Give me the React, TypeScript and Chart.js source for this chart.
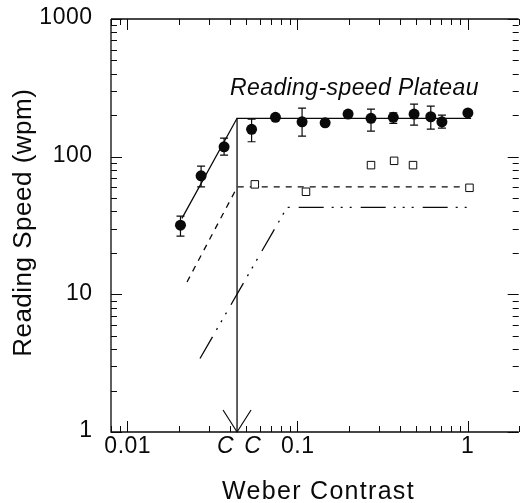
import React, { useEffect, useRef } from "react";
import { Chart, registerables } from "chart.js";

Chart.register(...registerables);

// ---- data ----
const circleX = [0.0205, 0.0271, 0.037, 0.0537, 0.0742, 0.1064, 0.1454, 0.1984, 0.2706, 0.366, 0.485, 0.608, 0.707, 1.005];
const circleY = [31.8, 72.6, 118, 158, 193, 179, 176, 204, 190, 193, 204, 195, 179, 208];
const circleErrLow = [26.5, 60.4, 102.7, 128.3, null, 141, null, null, 153.4, 174.5, 169.7, 158.7, 161.4, null];
const circleErrHigh = [37, 85.4, 136.5, 187.5, null, 225.5, null, null, 221.6, 208.4, 241, 233, 200.6, null];

const squareX = [0.0561, 0.1122, 0.2706, 0.37, 0.478, 1.027];
const squareY = [62.9, 55.6, 86.8, 93.3, 86.8, 59.4];

const solidFitX = [0.0209, 0.0441, 1.05];
const solidFitY = [35.6, 190, 190];
const cutoffX = [0.0441, 0.0441];
const cutoffY = [190, 1];
const dashedFitX = [0.0224, 0.0443, 1.03];
const dashedFitY = [12.3, 60.4, 60.4];
const dashDotFitX = [0.0267, 0.0868, 1.06];
const dashDotFitY = [3.42, 42.8, 42.8];

const xTickValues = [0.01, 0.1, 1];
const xTickLabels = ["0.01", "0.1", "1"];
const cLabelX = [0.0376, 0.0545];
const cLabels = ["C", "C"];
const yTickValues = [1, 10, 100, 1000];
const yTickLabels = ["1", "10", "100", "1000"];

const xTitle = "Weber Contrast";
const yTitle = "Reading Speed (wpm)";
const plateauText = "Reading-speed Plateau";
const plateauPos = { x: 0.0401, y: 280 };

const xMin = 0.008, xMax = 2, yMin = 1, yMax = 1000;

const FONT = '"Liberation Sans", Arial, Helvetica, sans-serif';
const INK = "#0a0a0a";

const pts = (xs: number[], ys: number[]) => xs.map((x, i) => ({ x, y: ys[i] }));

function minorValues(min: number, max: number) {
  const out: number[] = [];
  for (let e = Math.floor(Math.log10(min)); e <= Math.ceil(Math.log10(max)); e++) {
    for (let m = 1; m <= 9; m++) {
      const v = m * Math.pow(10, e);
      if (v >= min * 0.999 && v <= max * 1.001) out.push(v);
    }
  }
  return out;
}

function spacedText(ctx: any, text: string, x: number, y: number, spacing: number, align: string) {
  ctx.save();
  ctx.textAlign = "left";
  if ("letterSpacing" in ctx) {
    ctx.letterSpacing = `${spacing}px`;
    const w = ctx.measureText(text).width - spacing;
    const sx = align === "center" ? x - w / 2 : align === "right" ? x - w : x;
    ctx.fillText(text, sx, y);
  } else {
    const w = ctx.measureText(text).width + spacing * (text.length - 1);
    let cx = align === "center" ? x - w / 2 : align === "right" ? x - w : x;
    for (const ch of text) {
      ctx.fillText(ch, cx, y);
      cx += ctx.measureText(ch).width + spacing;
    }
  }
  ctx.restore();
}

const framePlugin = {
  id: "frame",
  afterDatasetsDraw(chart: any) {
    const { ctx, chartArea: a, scales } = chart;
    const xs = scales.x, ys = scales.y;
    ctx.save();
    ctx.strokeStyle = INK;
    ctx.fillStyle = INK;
    ctx.lineWidth = 1.3;
    // frame
    ctx.beginPath();
    ctx.moveTo(a.left, a.top);
    ctx.lineTo(a.right, a.top);
    ctx.moveTo(a.left, a.top);
    ctx.lineTo(a.left, a.bottom);
    ctx.lineTo(a.right, a.bottom);
    ctx.stroke();
    // ticks
    ctx.lineWidth = 1;
    ctx.beginPath();
    for (const v of minorValues(xMin, xMax)) {
      const p = Math.round(xs.getPixelForValue(v)) + 0.5;
      const major = Math.abs(Math.log10(v) - Math.round(Math.log10(v))) < 1e-6;
      const L = major ? 11 : 6;
      ctx.moveTo(p, a.bottom);
      ctx.lineTo(p, a.bottom - L);
      ctx.moveTo(p, a.top);
      ctx.lineTo(p, a.top + L);
    }
    for (const v of minorValues(yMin, yMax)) {
      const p = Math.round(ys.getPixelForValue(v)) + 0.5;
      const major = Math.abs(Math.log10(v) - Math.round(Math.log10(v))) < 1e-6;
      const L = major ? 11 : 6;
      ctx.moveTo(a.left, p);
      ctx.lineTo(a.left + L, p);
      ctx.moveTo(a.right, p);
      ctx.lineTo(a.right - L, p);
    }
    ctx.stroke();

    // error bars
    ctx.lineWidth = 1.2;
    ctx.beginPath();
    circleX.forEach((x, i) => {
      const lo = circleErrLow[i], hi = circleErrHigh[i];
      if (lo == null || hi == null) return;
      const px = xs.getPixelForValue(x);
      const pl = ys.getPixelForValue(lo);
      const ph = ys.getPixelForValue(hi);
      ctx.moveTo(px, pl);
      ctx.lineTo(px, ph);
      ctx.moveTo(px - 4, pl);
      ctx.lineTo(px + 4, pl);
      ctx.moveTo(px - 4, ph);
      ctx.lineTo(px + 4, ph);
    });
    ctx.stroke();

    // arrow at contrast cutoff
    const ax = xs.getPixelForValue(cutoffX[0]);
    ctx.lineWidth = 1.2;
    ctx.beginPath();
    ctx.moveTo(ax - 14, a.bottom - 22);
    ctx.lineTo(ax, a.bottom);
    ctx.lineTo(ax + 14, a.bottom - 22);
    ctx.stroke();

    // tick labels
    ctx.font = `23px ${FONT}`;
    ctx.textBaseline = "alphabetic";
    xTickValues.forEach((v, i) => {
      spacedText(ctx, xTickLabels[i], xs.getPixelForValue(v), a.bottom + 21, 0.5, "center");
    });
    ctx.font = `italic 23px ${FONT}`;
    cLabelX.forEach((v, i) => {
      spacedText(ctx, cLabels[i], xs.getPixelForValue(v), a.bottom + 21, 0, "center");
    });
    ctx.font = `23px ${FONT}`;
    ctx.textBaseline = "middle";
    yTickValues.forEach((v, i) => {
      spacedText(ctx, yTickLabels[i], 92, ys.getPixelForValue(v) - 1, 0.5, "right");
    });

    // axis titles
    ctx.font = `25px ${FONT}`;
    ctx.textBaseline = "alphabetic";
    spacedText(ctx, xTitle, (a.left + a.right) / 2 + 3, 499, 1.3, "center");
    ctx.save();
    ctx.translate(31, (a.top + a.bottom) / 2 - 2.5);
    ctx.rotate(-Math.PI / 2);
    ctx.font = `26px ${FONT}`;
    spacedText(ctx, yTitle, 0, 0, 0.5, "center");
    ctx.restore();

    // annotation
    ctx.font = `italic 23px ${FONT}`;
    spacedText(ctx, plateauText, xs.getPixelForValue(plateauPos.x), ys.getPixelForValue(plateauPos.y), 0.4, "left");
    ctx.restore();
  },
};

export default function App() {
  const ref = useRef<HTMLCanvasElement | null>(null);
  useEffect(() => {
    document.body.style.margin = "0";
    const canvas = ref.current!;
    const lineDs = (xs: number[], ys: number[], dash: number[]) => ({
      type: "line" as const,
      data: pts(xs, ys),
      showLine: true,
      borderColor: INK,
      borderWidth: 1.3,
      borderDash: dash,
      pointRadius: 0,
      fill: false,
      tension: 0,
    });
    const chart = new Chart(canvas, {
      type: "scatter",
      data: {
        datasets: [
          {
            data: pts(circleX, circleY),
            pointStyle: "circle",
            pointRadius: 5.5,
            backgroundColor: INK,
            borderColor: INK,
            borderWidth: 0,
          },
          {
            data: pts(squareX, squareY),
            pointStyle: "rect",
            pointRadius: 5.3,
            backgroundColor: "#fff",
            borderColor: INK,
            borderWidth: 1,
          },
          lineDs(solidFitX, solidFitY, []),
          lineDs(cutoffX, cutoffY, []),
          lineDs(dashedFitX, dashedFitY, [6, 6]),
          lineDs(dashDotFitX, dashDotFitY, [25, 8, 2, 7, 2, 7, 2, 9]),
        ] as any,
      },
      options: {
        responsive: false,
        animation: false,
        devicePixelRatio: 1,
        layout: { padding: { left: 111, top: 19, right: 0, bottom: 71 } },
        scales: {
          x: { type: "logarithmic", min: xMin, max: xMax, display: false },
          y: { type: "logarithmic", min: yMin, max: yMax, display: false },
        },
        plugins: { legend: { display: false }, tooltip: { enabled: false } },
      },
      plugins: [framePlugin],
    });
    return () => chart.destroy();
  }, []);
  return (
    <div style={{ position: "absolute", left: 0, top: 0, width: 525, height: 503, background: "#fff" }}>
      <canvas ref={ref} width={525} height={503} />
    </div>
  );
}
